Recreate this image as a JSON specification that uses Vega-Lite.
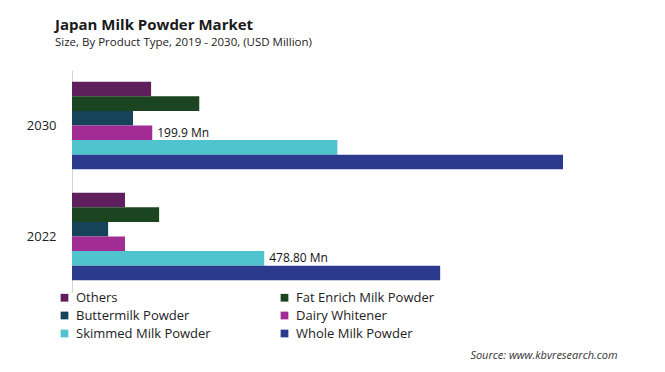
{
  "$schema": "https://vega.github.io/schema/vega-lite/v6.json",
  "width": 540,
  "height": 222,
  "autosize": {"type": "none"},
  "padding": {"left": 72, "top": 70, "right": 53, "bottom": 80},
  "background": "white",
  "title": {
    "text": "Japan Milk Powder Market",
    "subtitle": "Size, By Product Type, 2019 - 2030, (USD Million)",
    "anchor": "start",
    "frame": "group",
    "dx": -17,
    "offset": 22,
    "font": "Open Sans",
    "fontSize": 15,
    "fontWeight": "bold",
    "color": "#1a1a1a",
    "subtitleFont": "Open Sans",
    "subtitleFontSize": 11.5,
    "subtitleColor": "#222222",
    "subtitlePadding": 4
  },
  "data": {
    "values": [
      {"year": "2030", "type": "Others", "value": 197, "label": ""},
      {"year": "2030", "type": "Fat Enrich Milk Powder", "value": 317, "label": ""},
      {"year": "2030", "type": "Buttermilk Powder", "value": 152, "label": ""},
      {"year": "2030", "type": "Dairy Whitener", "value": 199.9, "label": "199.9  Mn"},
      {"year": "2030", "type": "Skimmed Milk Powder", "value": 661, "label": ""},
      {"year": "2030", "type": "Whole Milk Powder", "value": 1223, "label": ""},
      {"year": "2022", "type": "Others", "value": 132, "label": ""},
      {"year": "2022", "type": "Fat Enrich Milk Powder", "value": 217, "label": ""},
      {"year": "2022", "type": "Buttermilk Powder", "value": 90, "label": ""},
      {"year": "2022", "type": "Dairy Whitener", "value": 132, "label": ""},
      {"year": "2022", "type": "Skimmed Milk Powder", "value": 478.8, "label": "478.80  Mn"},
      {"year": "2022", "type": "Whole Milk Powder", "value": 917, "label": ""}
    ]
  },
  "encoding": {
    "y": {
      "field": "year",
      "type": "nominal",
      "sort": ["2030", "2022"],
      "scale": {"paddingInner": 0.21, "paddingOuter": 0.105},
      "axis": {
        "title": null,
        "ticks": false,
        "domainColor": "#d4d4d4",
        "domainWidth": 1,
        "labelPadding": 16,
        "labelFont": "Open Sans",
        "labelFontSize": 13,
        "labelColor": "#222222"
      }
    },
    "yOffset": {
      "field": "type",
      "type": "nominal",
      "sort": ["Others", "Fat Enrich Milk Powder", "Buttermilk Powder", "Dairy Whitener", "Skimmed Milk Powder", "Whole Milk Powder"],
      "scale": {"paddingInner": 0, "paddingOuter": 0}
    },
    "x": {
      "field": "value",
      "type": "quantitative",
      "scale": {"domain": [0, 1345], "nice": false},
      "axis": {
        "domain": false,
        "ticks": false,
        "labels": false,
        "grid": false,
        "title": "Source: www.kbvresearch.com",
        "titleAnchor": "end",
        "titleX": 545,
        "titleY": 57,
        "titleAlign": "right",
        "titleFont": "Open Sans",
        "titleFontSize": 11,
        "titleFontStyle": "italic",
        "titleFontWeight": "normal",
        "titleColor": "#333333"
      }
    }
  },
  "layer": [
    {
      "mark": {"type": "bar"},
      "encoding": {
        "color": {
          "field": "type",
          "type": "nominal",
          "sort": ["Others", "Fat Enrich Milk Powder", "Buttermilk Powder", "Dairy Whitener", "Skimmed Milk Powder", "Whole Milk Powder"],
          "scale": {
            "domain": ["Others", "Fat Enrich Milk Powder", "Buttermilk Powder", "Dairy Whitener", "Skimmed Milk Powder", "Whole Milk Powder"],
            "range": ["#5e1f5c", "#1b4520", "#16435a", "#a12c93", "#4fc3ce", "#2c3a8e"]
          },
          "legend": {
            "title": null,
            "orient": "none",
            "direction": "horizontal",
            "legendX": -14,
            "legendY": 221,
            "columns": 2,
            "columnPadding": 67,
            "rowPadding": 4,
            "symbolType": "square",
            "symbolSize": 60,
            "symbolStrokeWidth": 0,
            "labelFont": "Open Sans",
            "labelFontSize": 13,
            "labelColor": "#222222",
            "labelOffset": 5,
            "labelLimit": 300
          }
        }
      }
    },
    {
      "mark": {"type": "text", "align": "left", "baseline": "middle", "dx": 5, "font": "Open Sans", "fontSize": 12, "color": "#111111"},
      "encoding": {"text": {"field": "label"}}
    }
  ],
  "config": {"view": {"stroke": null}}
}
